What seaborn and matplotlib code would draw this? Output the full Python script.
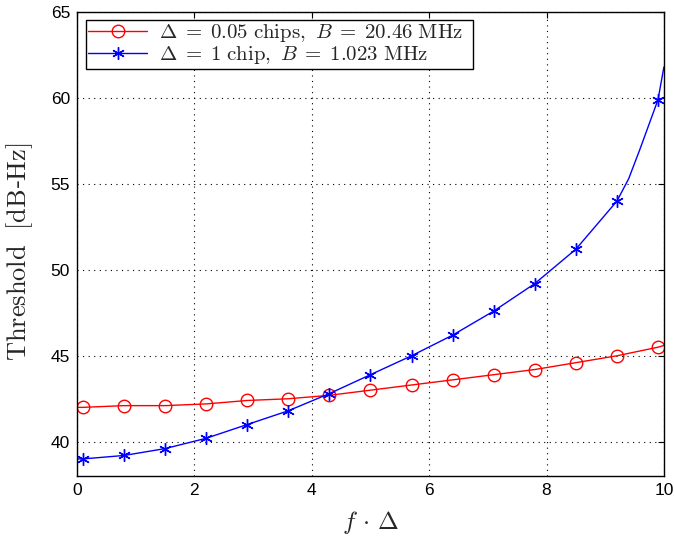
import matplotlib
matplotlib.use("Agg")
import matplotlib.pyplot as plt
import seaborn as sns
import pandas as pd

# ---- data ----
x_red = [0.0, 0.1, 0.8, 1.5, 2.2, 2.9, 3.6, 4.3, 5.0, 5.7, 6.4, 7.1, 7.8, 8.5, 9.2, 9.9, 10.0]
y_red = [42.0, 42.0, 42.1, 42.1, 42.2, 42.4, 42.5, 42.7, 43.0, 43.3, 43.6, 43.9, 44.2, 44.6, 45.0, 45.5, 45.6]
red_marker_idx = list(range(1, 16))

x_blue = [0.0, 0.1, 0.8, 1.5, 2.2, 2.9, 3.6, 4.3, 5.0, 5.7, 6.4, 7.1, 7.8, 8.5, 9.2, 9.4, 9.59, 9.9, 10.0]
y_blue = [39.0, 39.0, 39.2, 39.6, 40.2, 41.0, 41.8, 42.8, 43.9, 45.0, 46.2, 47.6, 49.2, 51.2, 54.0, 55.3, 57.0, 59.9, 61.8]
blue_marker_idx = list(range(1, 15)) + [17]

label_red = r'$\Delta\;=\;0.05\ \mathrm{chips},\ B\;=\;20.46\ \mathrm{MHz}$' + '  '
label_blue = r'$\Delta\;=\;1\ \mathrm{chip},\ B\;=\;1.023\ \mathrm{MHz}$'
xticks = [0, 2, 4, 6, 8, 10]
yticks = [40, 45, 50, 55, 60, 65]

sns.set_theme(style="white")
plt.rcParams['font.family'] = ['Liberation Sans', 'DejaVu Sans']
plt.rcParams['mathtext.fontset'] = 'cm'
plt.rcParams['axes.unicode_minus'] = False

fig = plt.figure(figsize=(6.74, 5.46), dpi=100)
ax = fig.add_axes([0.1142, 0.128, 0.8708, 0.850])

df_r = pd.DataFrame({"x": x_red, "y": y_red})
df_b = pd.DataFrame({"x": x_blue, "y": y_blue})

sns.lineplot(data=df_r, x="x", y="y", ax=ax, color="#ff0000", lw=1.0,
             marker="o", markevery=red_marker_idx, markersize=9,
             markerfacecolor="none", markeredgecolor="#ff0000",
             markeredgewidth=1.0, label=label_red)
sns.lineplot(data=df_b, x="x", y="y", ax=ax, color="#0000ff", lw=1.0,
             marker=(6, 2, 0), markevery=blue_marker_idx, markersize=9,
             markerfacecolor="none", markeredgecolor="#0000ff",
             markeredgewidth=1.0, label=label_blue)

ax.set_xlim(0, 10)
ax.set_ylim(38, 65)
ax.set_xticks(xticks)
ax.set_yticks(yticks)
ax.tick_params(direction="in", top=True, right=True, length=4, width=0.8,
               labelsize=12.5, colors="black", pad=5)
ax.grid(True, linestyle=(0, (1, 4)), color="black", linewidth=0.8)
for s in ax.spines.values():
    s.set_color("black")
    s.set_linewidth(1.0)

ax.set_xlabel(r'$f\,\cdot\,\Delta$', fontsize=18, labelpad=8)
ax.set_ylabel(r'$\mathrm{Threshold\ \ [dB}$-$\mathrm{Hz]}$', fontsize=19, labelpad=6)
ax.yaxis.set_label_coords(-0.072, 0.483)

leg = ax.legend(loc="upper left", bbox_to_anchor=(0.0153, 0.983),
                fancybox=False, edgecolor="black",
                framealpha=1, fontsize=15, handlelength=2.8,
                borderaxespad=0.0, borderpad=0.12, labelspacing=0.0,
                handletextpad=0.6)
leg.get_frame().set_linewidth(1.0)

fig.savefig("out.png", dpi=100)
